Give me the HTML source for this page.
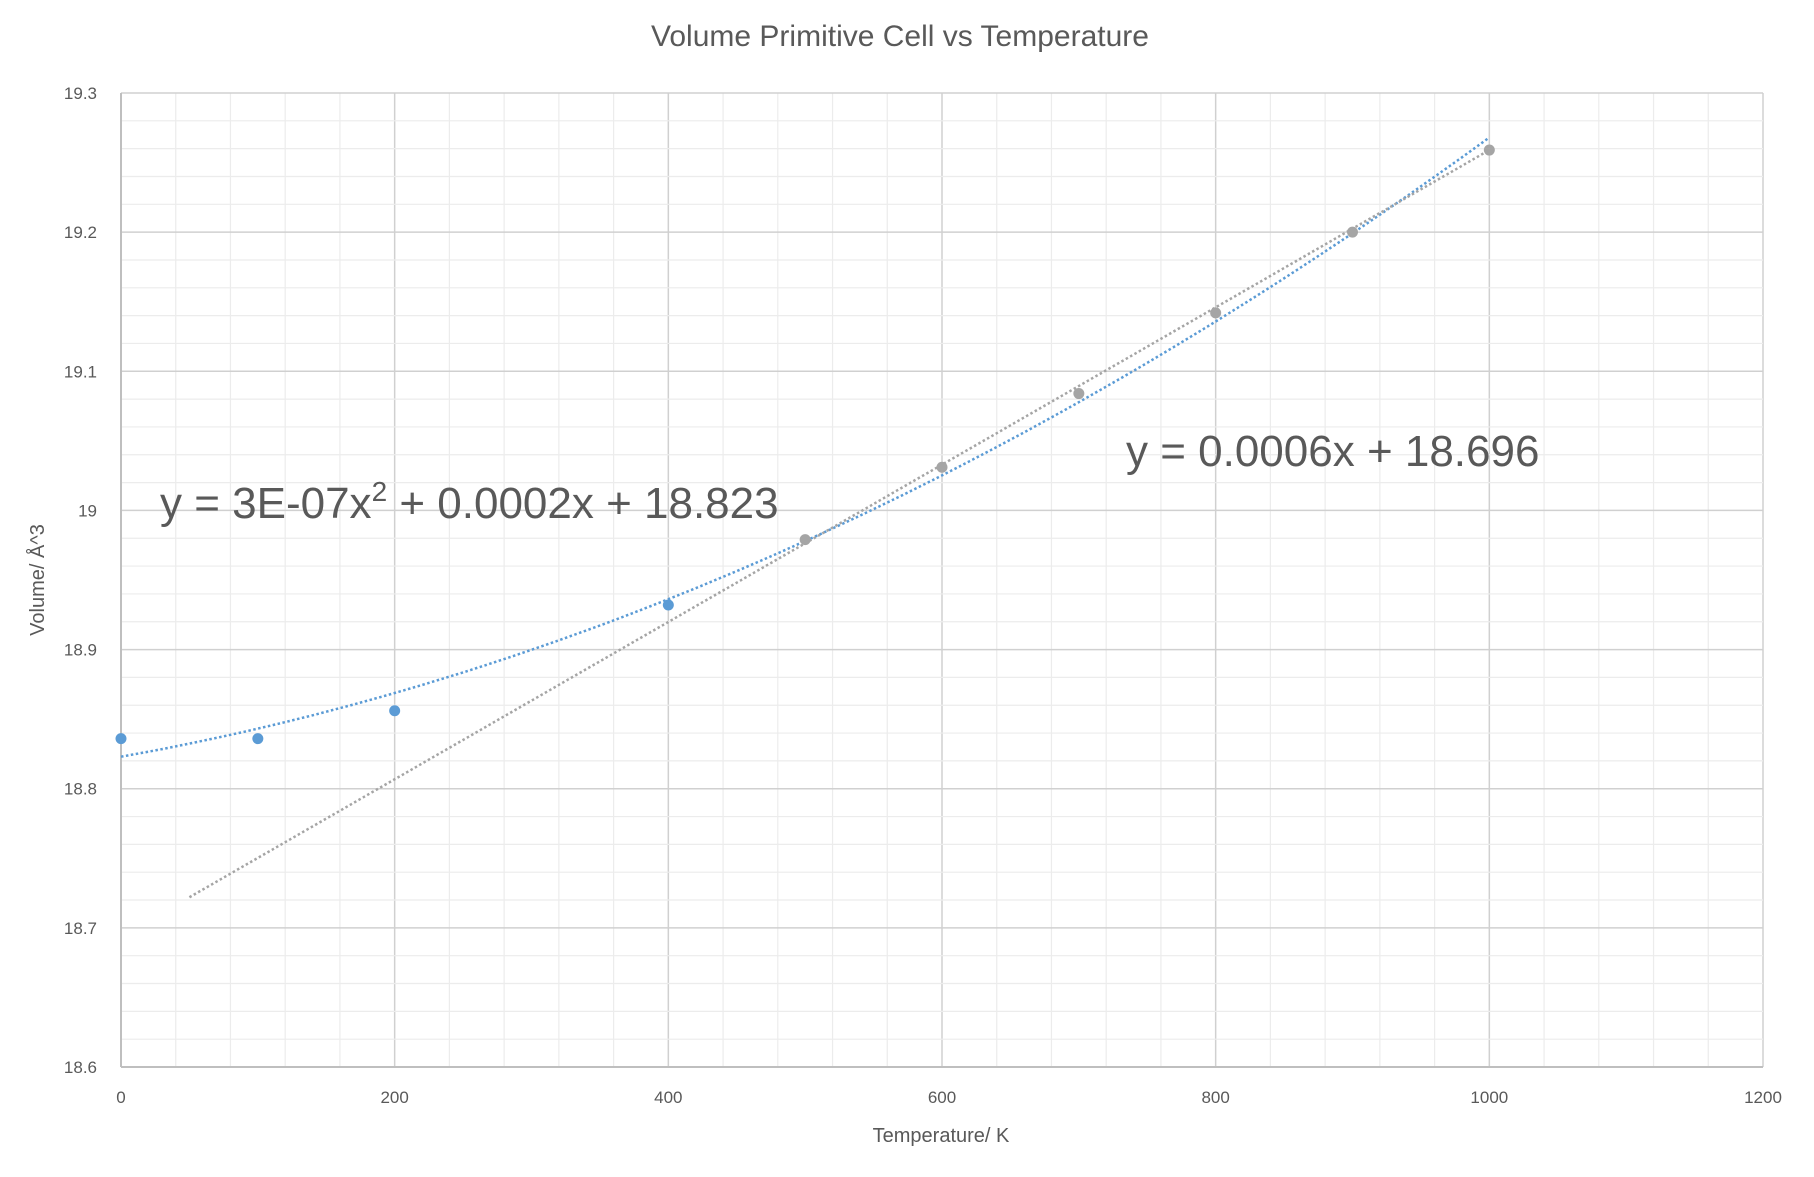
<!DOCTYPE html>
<html><head><meta charset="utf-8"><style>
html,body{margin:0;padding:0;background:#fff;}
svg text{font-family:"Liberation Sans",sans-serif;fill:#595959;}
</style></head><body>
<svg id="c" width="1814" height="1172" xmlns="http://www.w3.org/2000/svg">
<rect width="1814" height="1172" fill="#fff"/>
<g id="grid"></g>
<text x="900" y="46" font-size="30" text-anchor="middle">Volume Primitive Cell vs Temperature</text>
<g id="ticks" font-size="17"></g>
<text x="941" y="1142" font-size="20" text-anchor="middle">Temperature/ K</text>
<text transform="translate(44,580) rotate(-90)" font-size="20" text-anchor="middle">Volume/ Å^3</text>
<g id="series"></g>
<text x="160" y="518" font-size="44">y = 3E-07x<tspan dy="-17" font-size="28">2</tspan><tspan dy="17"> + 0.0002x + 18.823</tspan></text>
<text x="1126" y="466" font-size="44">y = 0.0006x + 18.696</text>
</svg>
<script>
const L=121,T=93,R=1763,B=1067;
const X=x=>L+(R-L)*x/1200, Y=v=>B-(B-T)*(v-18.6)/0.7;
let g='';
for(let i=0;i<=30;i++){const x=X(i*40);g+=`<line x1="${x}" y1="${T}" x2="${x}" y2="${B}" stroke="${i%5==0?'#d0d0d0':'#ececec'}" stroke-width="${i%5==0?1.5:1.2}"/>`;}
for(let i=0;i<=35;i++){const y=Y(18.6+i*0.02);g+=`<line x1="${L}" y1="${y}" x2="${R}" y2="${y}" stroke="${i%5==0?'#d0d0d0':'#ececec'}" stroke-width="${i%5==0?1.5:1.2}"/>`;}
g+=`<line x1="${L}" y1="${T}" x2="${L}" y2="${B}" stroke="#bfbfbf" stroke-width="2"/><line x1="${L}" y1="${B}" x2="${R}" y2="${B}" stroke="#bfbfbf" stroke-width="2"/>`;
document.getElementById('grid').innerHTML=g;
let t='';
for(let i=0;i<=7;i++){const v=18.6+i*0.1;t+=`<text x="97" y="${Y(v)+6}" text-anchor="end">${(Math.round(v*10)/10).toString()}</text>`;}
for(let i=0;i<=6;i++){t+=`<text x="${X(i*200)}" y="${1103}" text-anchor="middle">${i*200}</text>`;}
document.getElementById('ticks').innerHTML=t;
let s='';
let p=[];for(let x=0;x<=1000;x+=10){p.push(X(x).toFixed(1)+','+Y(18.823+0.000175*x+2.7e-7*x*x).toFixed(1));}
s+=`<polyline points="${p.join(' ')}" fill="none" stroke="#5b9bd5" stroke-width="2.5" stroke-dasharray="2.5 2.5"/>`;
s+=`<line x1="${X(50)}" y1="${Y(18.722)}" x2="${X(1000)}" y2="${Y(19.259)}" stroke="#a5a5a5" stroke-width="2.5" stroke-dasharray="2.5 2.5"/>`;
[[0,18.836],[100,18.836],[200,18.856],[400,18.932]].forEach(([x,v])=>s+=`<circle cx="${X(x)}" cy="${Y(v)}" r="5.5" fill="#5b9bd5"/>`);
[[500,18.979],[600,19.031],[700,19.084],[800,19.142],[900,19.200],[1000,19.259]].forEach(([x,v])=>s+=`<circle cx="${X(x)}" cy="${Y(v)}" r="5.5" fill="#a5a5a5"/>`);
document.getElementById('series').innerHTML=s;
</script>
</body></html>
